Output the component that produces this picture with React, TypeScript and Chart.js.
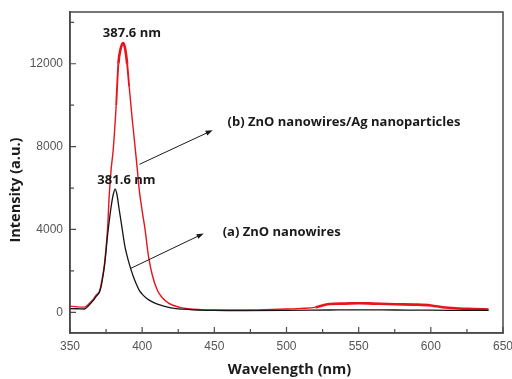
import { useEffect, useRef } from "react";
import { Chart, registerables } from "chart.js";

Chart.register(...registerables);

// (a) ZnO nanowires — black curve
const wavelengthA = [350, 355, 360, 363, 366, 368, 370.6, 372, 374, 376, 377, 378.5, 380, 381.3, 382.5, 384, 386, 388, 390, 392, 394, 396, 398, 400, 403, 407, 411, 416, 421, 428, 435, 450, 470, 500, 530, 550, 575, 600, 620, 640];
const intensityA = [180, 170, 160, 330, 560, 760, 1000, 1400, 2300, 3700, 4300, 5100, 5700, 5950, 5700, 5000, 4100, 3200, 2600, 2120, 1700, 1350, 1060, 880, 680, 500, 380, 280, 200, 150, 120, 90, 80, 90, 110, 120, 110, 100, 95, 90];

// (b) ZnO nanowires/Ag nanoparticles — red curve
const wavelengthB = [350, 355, 360, 363, 366, 368, 370.6, 372, 374, 376, 377.3, 378.5, 380, 382, 383.5, 385, 386.8, 388, 389.6, 391, 393, 395, 396.5, 398, 400, 402, 404.4, 407, 410.6, 414, 418.5, 426, 432, 440, 450, 470, 490, 500, 510, 520, 525, 530, 540, 550, 560, 575, 590, 600, 610, 620, 630, 640];
const intensityB = [300, 260, 250, 400, 620, 820, 1050, 1500, 2400, 4000, 5800, 6900, 7900, 10000, 12000, 12700, 13000, 12800, 12000, 10900, 9400, 8050, 7000, 5900, 4900, 4000, 2700, 1800, 1050, 700, 430, 240, 170, 130, 110, 110, 140, 160, 190, 240, 330, 400, 420, 440, 420, 390, 370, 330, 230, 180, 160, 130];

const seriesNames = ["(a) ZnO nanowires", "(b) ZnO nanowires/Ag nanoparticles"];
const peakLabels = ["381.6 nm", "387.6 nm"];

const xTickLabels = [350, 400, 450, 500, 550, 600, 650];
const xMinorTicks = [375, 425, 475, 525, 575, 625];
const yTickLabels = [0, 4000, 8000, 12000];
const yMinorTicks = [2000, 6000, 10000, 14000];

const xTitle = "Wavelength (nm)";
const yTitle = "Intensity (a.u.)";

const TEXT_FONT = "'Open Sans', 'Liberation Sans', sans-serif";

const decorPlugin = {
  id: "decor",
  afterDatasetsDraw(chart: any) {
    const ctx: CanvasRenderingContext2D = chart.ctx;
    const area = chart.chartArea;
    const xs = chart.scales.x;
    const ys = chart.scales.y;
    const L = Number(area.left);
    const T = Number(area.top);
    const R = Number(area.right);
    const B = Number(area.bottom);

    ctx.save();
    ctx.globalAlpha = 1;
    ctx.globalCompositeOperation = "source-over";
    ctx.setLineDash([]);
    ctx.strokeStyle = "#4a4a4a";
    ctx.lineWidth = 1.5;

    // frame
    ctx.beginPath();
    ctx.rect(L, T, R - L, B - T);
    ctx.stroke();

    // inward ticks
    ctx.lineWidth = 1.2;
    ctx.beginPath();
    for (const v of xTickLabels) {
      const px = xs.getPixelForValue(v);
      ctx.moveTo(px, B);
      ctx.lineTo(px, B - 6);
    }
    for (const v of xMinorTicks) {
      const px = xs.getPixelForValue(v);
      ctx.moveTo(px, B);
      ctx.lineTo(px, B - 4);
    }
    for (const v of yTickLabels) {
      const py = ys.getPixelForValue(v);
      ctx.moveTo(L, py);
      ctx.lineTo(L + 6, py);
    }
    for (const v of yMinorTicks) {
      const py = ys.getPixelForValue(v);
      ctx.moveTo(L, py);
      ctx.lineTo(L + 4, py);
    }
    ctx.stroke();

    const X = (v: number) => xs.getPixelForValue(v);
    const Y = (v: number) => ys.getPixelForValue(v);

    // arrows
    const arrow = (x0: number, y0: number, x1: number, y1: number) => {
      const px0 = X(x0), py0 = Y(y0), px1 = X(x1), py1 = Y(y1);
      const ang = Math.atan2(py1 - py0, px1 - px0);
      ctx.strokeStyle = "#1a1a1a";
      ctx.lineWidth = 1;
      ctx.beginPath();
      ctx.moveTo(px0, py0);
      ctx.lineTo(px1 - 4 * Math.cos(ang), py1 - 4 * Math.sin(ang));
      ctx.stroke();
      const hl = 7, hw = 2.6;
      ctx.fillStyle = "#1a1a1a";
      ctx.beginPath();
      ctx.moveTo(px1, py1);
      ctx.lineTo(px1 - hl * Math.cos(ang) + hw * Math.sin(ang), py1 - hl * Math.sin(ang) - hw * Math.cos(ang));
      ctx.lineTo(px1 - hl * Math.cos(ang) - hw * Math.sin(ang), py1 - hl * Math.sin(ang) + hw * Math.cos(ang));
      ctx.closePath();
      ctx.fill();
    };
    arrow(398.1, 7144, 448.8, 8790);
    arrow(391.9, 2114, 442.6, 3807);

    // texts
    ctx.fillStyle = "#1a1a1a";
    ctx.textBaseline = "middle";
    ctx.font = `bold 13px ${TEXT_FONT}`;
    ctx.textAlign = "center";
    ctx.fillText(peakLabels[1], X(392.9), Y(13480));
    ctx.fillText(peakLabels[0], X(389.1), Y(6370));
    ctx.textAlign = "left";
    ctx.fillText(seriesNames[1], X(459.2), Y(9176));
    ctx.fillText(seriesNames[0], X(455.8), Y(3855));

    // axis titles
    ctx.font = `bold 14.5px ${TEXT_FONT}`;
    ctx.textAlign = "center";
    ctx.fillText(xTitle, (L + R) / 2 + 3, 370);
    ctx.save();
    ctx.translate(16, 190);
    ctx.rotate(-Math.PI / 2);
    ctx.fillText(yTitle, 0, 0);
    ctx.restore();

    ctx.restore();
  },
};

export default function App() {
  const canvasRef = useRef<HTMLCanvasElement | null>(null);

  useEffect(() => {
    if (!canvasRef.current) return;
    const chart = new Chart(canvasRef.current, {
      type: "line",
      data: {
        datasets: [
          {
            label: seriesNames[0],
            data: wavelengthA.map((x, i) => ({ x, y: intensityA[i] })),
            borderColor: "#161616",
            borderWidth: 1.3,
            pointRadius: 0,
            cubicInterpolationMode: "monotone",
            fill: false,
          },
          {
            label: seriesNames[1],
            data: wavelengthB.map((x, i) => ({ x, y: intensityB[i] })),
            borderColor: "#e8141c",
            borderWidth: 1.4,
            pointRadius: 0,
            cubicInterpolationMode: "monotone",
            fill: false,
            segment: {
              borderWidth: (c: any) => {
                const x0 = c.p0.parsed.x;
                if (x0 >= 382 && x0 < 383.5) return 1.9;
                if (x0 >= 383.5 && x0 < 389.6) return 2.6;
                if (x0 >= 389.6 && x0 < 391) return 1.9;
                if (x0 >= 520) return 2.6;
                return 1.4;
              },
            },
          },
        ],
      },
      options: {
        animation: false,
        responsive: true,
        maintainAspectRatio: false,
        layout: { padding: { left: 0, top: 12, right: 0, bottom: 0 } },
        plugins: {
          legend: { display: false },
          tooltip: { enabled: false },
        },
        scales: {
          x: {
            type: "linear",
            min: 350,
            max: 650,
            grid: { display: false, drawTicks: false },
            border: { display: true, color: "#4a4a4a", width: 1.5 },
            ticks: {
              padding: 6,
              color: "#555",
              font: { family: "'Liberation Sans', Arial, sans-serif", size: 12 },
              callback: (v: any) => String(v),
            },
            afterBuildTicks: (s: any) => {
              s.ticks = xTickLabels.map((v) => ({ value: v }));
            },
            afterFit: (s: any) => {
              s.height = 46;
              s.paddingRight = 9;
              s.paddingLeft = 0;
            },
          },
          y: {
            type: "linear",
            min: -1000,
            max: 14500,
            grid: { display: false, drawTicks: false },
            border: { display: true, color: "#4a4a4a", width: 1.5 },
            ticks: {
              padding: 7,
              color: "#555",
              font: { family: "'Liberation Sans', Arial, sans-serif", size: 12 },
              callback: (v: any) => String(v),
            },
            afterBuildTicks: (s: any) => {
              s.ticks = yTickLabels.map((v) => ({ value: v }));
            },
            afterFit: (s: any) => {
              s.width = 70;
              s.paddingTop = 0;
              s.paddingBottom = 0;
            },
          },
        },
      },
      plugins: [decorPlugin],
    } as any);
    return () => chart.destroy();
  }, []);

  return (
    <div style={{ position: "fixed", left: 0, top: 0, width: 512, height: 379, background: "#fff" }}>
      <canvas ref={canvasRef} />
    </div>
  );
}
